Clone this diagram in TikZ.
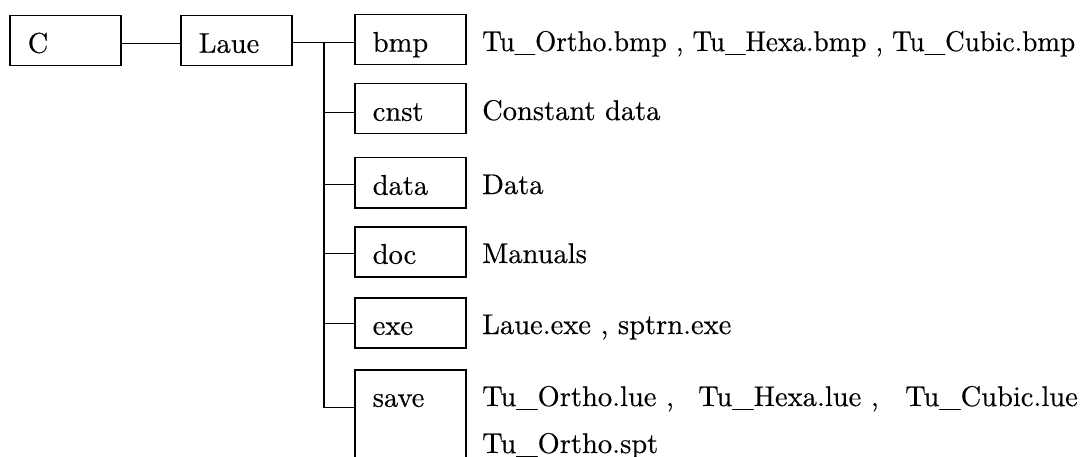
\documentclass[tikz,border=0pt]{standalone}
\usepackage{fontspec}
\setmainfont{lmroman10-regular.otf}[FakeBold=0.4]
\begin{document}
\begin{tikzpicture}[x=1pt,y=-1pt,
  every node/.style={font=\fontsize{28.5}{34}\selectfont},
  dirbox/.style={draw, line width=1.5pt, anchor=north west, minimum width=111pt,
    inner xsep=18pt, inner ysep=0pt, text width=75pt, align=left,
    text height=37pt, text depth=13pt},
  tallbox/.style={dirbox, text depth=63pt},
  desc/.style={anchor=base west, inner sep=0pt},
  link/.style={line width=1.4pt}]
\clip (0,0) rectangle (1086,457);

% top-level folders
\node[dirbox] (C)    at (9,15)   {C};
\node[dirbox] (Laue) at (180,15) {Laue};

% sub-folders of Laue
\node[dirbox]  (bmp)  at (354,14)  {bmp};
\node[dirbox]  (cnst) at (354,83)  {cnst};
\node[dirbox]  (data) at (354,157) {data};
\node[dirbox]  (doc)  at (354,226) {doc};
\node[dirbox]  (exe)  at (354,297) {exe};
\node[tallbox] (save) at (354,369) {save};

% contents
\node[desc] (bmpt)  at (482,51)  {\scalebox{0.955}[1]{Tu\_Ortho.bmp , Tu\_Hexa.bmp , Tu\_Cubic.bmp}};
\node[desc] (cnstt) at (482,120) {Constant data};
\node[desc] (datat) at (482,194) {Data};
\node[desc] (doct)  at (482,263) {Manuals};
\node[desc] (exet)  at (482,334) {Laue.exe , sptrn.exe};
\node[desc] (savea) at (482,406) {Tu\_Ortho.lue ,};
\node[desc] (saveb) at (698,406) {Tu\_Hexa.lue ,};
\node[desc] (savec) at (905,406) {Tu\_Cubic.lue};
\node[desc] (saved) at (482,453) {Tu\_Ortho.spt};

% tree connectors
\coordinate (t) at (324,42.5);
\draw[link] ([yshift=-2.5pt]C.east) -- ([yshift=-2.5pt]Laue.west);
\draw[link] (Laue.east |- t) -- (t) -- (t -| bmp.west);
\foreach \n/\s in {cnst/-3.5pt,data/-2pt,doc/-2pt,exe/-1pt,save/12pt}{
  \coordinate (\n-in) at ([yshift=\s]\n.west);
  \draw[link] (t |- \n-in) -- (\n-in);
}
\draw[link] (t) -- (t |- save-in);
\end{tikzpicture}
\end{document}
